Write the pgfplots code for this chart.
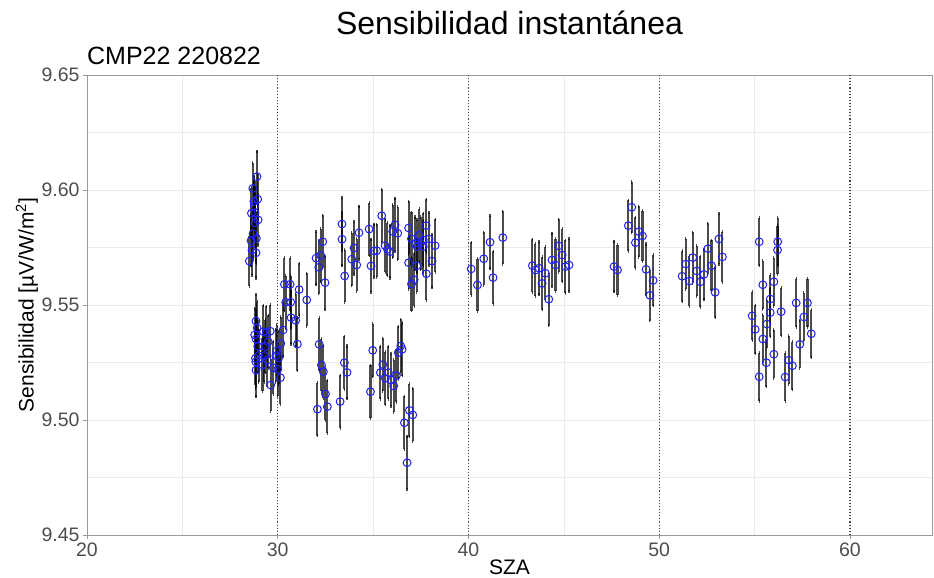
\documentclass[border=0pt]{standalone}
\usepackage{pgfplots}
\pgfplotsset{compat=1.18}
\usepackage{pgfplotstable}
\usepackage{fontspec}
\setmainfont{Liberation Sans}
\definecolor{gridc}{HTML}{EBEBEB}
\definecolor{framec}{HTML}{9A9A9A}
\definecolor{tickc}{HTML}{4D4D4D}
\definecolor{ptc}{HTML}{2020FF}

\pgfplotstableread{
x y e
28.91 9.6058 0.011
28.69 9.6007 0.011
28.62 9.5899 0.011
28.81 9.5901 0.011
28.97 9.5870 0.011
28.81 9.5857 0.011
28.65 9.5739 0.011
28.86 9.5727 0.011
28.51 9.5691 0.011
28.75 9.5950 0.011
28.70 9.5810 0.011
28.88 9.5790 0.011
28.78 9.5930 0.011
28.60 9.5780 0.011
28.95 9.5960 0.011
28.86 9.5430 0.0115
28.79 9.5370 0.0115
28.86 9.5352 0.0115
29.25 9.5384 0.0115
29.40 9.5380 0.0115
29.61 9.5386 0.0115
28.83 9.5268 0.0115
28.85 9.5253 0.0115
28.86 9.5217 0.0115
29.63 9.5152 0.0115
29.77 9.5227 0.0115
30.14 9.5184 0.0115
30.16 9.5333 0.0115
30.28 9.5391 0.0115
28.95 9.5320 0.0115
29.00 9.5280 0.0115
29.30 9.5280 0.0115
29.35 9.5320 0.0115
29.45 9.5260 0.0115
29.50 9.5340 0.0115
29.90 9.5280 0.0115
30.00 9.5220 0.0115
29.95 9.5300 0.0115
28.92 9.5400 0.0115
29.20 9.5240 0.0115
30.05 9.5270 0.0115
30.35 9.5590 0.0115
30.65 9.5590 0.0115
30.42 9.5512 0.0115
30.68 9.5512 0.0115
31.12 9.5567 0.0115
30.70 9.5445 0.0115
30.94 9.5433 0.0115
31.03 9.5330 0.0115
31.52 9.5522 0.0115
32.01 9.5704 0.0115
32.25 9.5716 0.0115
32.36 9.5775 0.0115
32.15 9.5664 0.0115
32.48 9.5597 0.0115
33.37 9.5852 0.0115
33.37 9.5786 0.0115
33.51 9.5626 0.0115
33.88 9.5699 0.0115
34.00 9.5748 0.0115
34.14 9.5674 0.0115
34.26 9.5814 0.0115
34.79 9.5830 0.0115
34.89 9.5670 0.0115
35.05 9.5735 0.0115
35.19 9.5736 0.0115
35.45 9.5888 0.0115
35.63 9.5758 0.0115
35.75 9.5742 0.0115
35.89 9.5732 0.0115
36.03 9.5820 0.0115
36.15 9.5849 0.0115
36.29 9.5812 0.0115
36.86 9.5835 0.0115
36.86 9.5684 0.0115
37.01 9.5788 0.0115
37.01 9.5591 0.0115
37.15 9.5610 0.0115
37.20 9.5768 0.0115
37.29 9.5670 0.0115
37.30 9.5755 0.0115
37.42 9.5803 0.0115
37.49 9.5768 0.0115
37.63 9.5783 0.0115
37.63 9.5754 0.0115
37.78 9.5845 0.0115
37.79 9.5636 0.0115
37.93 9.5787 0.0115
38.09 9.5691 0.0115
38.25 9.5758 0.0115
32.17 9.5329 0.0115
32.08 9.5047 0.0115
32.29 9.5239 0.0115
32.39 9.5210 0.0115
32.50 9.5113 0.0115
32.60 9.5058 0.0115
33.27 9.5080 0.0115
33.49 9.5249 0.0115
33.63 9.5207 0.0115
34.86 9.5123 0.0115
34.98 9.5303 0.0115
35.38 9.5206 0.0115
35.51 9.5241 0.0115
35.64 9.5181 0.0115
35.80 9.5206 0.0115
35.94 9.5174 0.0115
36.08 9.5148 0.0115
36.22 9.5193 0.0115
36.32 9.5293 0.0115
36.45 9.5322 0.0115
36.52 9.5307 0.0115
36.64 9.4988 0.0115
36.90 9.5042 0.0115
37.08 9.5022 0.0115
36.78 9.4814 0.0115
40.14 9.5657 0.0115
40.47 9.5587 0.0115
40.80 9.5701 0.0115
41.13 9.5773 0.0115
41.29 9.5619 0.0115
41.80 9.5793 0.0115
43.35 9.5671 0.0115
43.51 9.5652 0.0115
43.70 9.5660 0.0115
43.86 9.5594 0.0115
44.03 9.5638 0.0115
44.21 9.5525 0.0115
44.38 9.5696 0.0115
44.56 9.5674 0.0115
44.73 9.5757 0.0115
44.91 9.5717 0.0115
45.08 9.5667 0.0115
45.27 9.5674 0.0115
47.63 9.5667 0.011
47.81 9.5652 0.011
48.38 9.5845 0.011
48.56 9.5925 0.011
48.75 9.5771 0.011
48.93 9.5819 0.011
49.12 9.5800 0.011
49.31 9.5655 0.011
49.51 9.5542 0.011
49.68 9.5607 0.011
51.20 9.5625 0.011
51.39 9.5678 0.011
51.58 9.5604 0.011
51.76 9.5706 0.011
51.97 9.5648 0.011
52.16 9.5601 0.011
52.35 9.5633 0.011
52.55 9.5745 0.011
52.74 9.5671 0.011
52.93 9.5555 0.011
53.13 9.5787 0.011
53.31 9.5709 0.011
54.87 9.5453 0.0105
55.03 9.5394 0.0105
55.24 9.5775 0.0105
55.24 9.5188 0.0105
55.43 9.5588 0.0105
55.43 9.5352 0.0105
55.62 9.5249 0.0105
55.64 9.5417 0.0105
55.82 9.5526 0.0105
55.82 9.5467 0.0105
56.01 9.5601 0.0105
56.01 9.5286 0.0105
56.20 9.5739 0.0105
56.21 9.5775 0.0105
56.39 9.5471 0.0105
56.60 9.5187 0.0105
56.79 9.5260 0.0105
56.98 9.5236 0.0105
57.18 9.5509 0.0105
57.37 9.5329 0.0105
57.58 9.5448 0.0105
57.77 9.5509 0.0105
57.97 9.5375 0.0105
}\data

\begin{document}
\begin{tikzpicture}
\useasboundingbox (-87pt,-43pt) rectangle (847pt,535pt);
\begin{axis}[
  scale only axis, width=845pt, height=460pt,
  xmin=20, xmax=64.3, ymin=9.45, ymax=9.65,
  xtick={20,30,40,50,60}, minor xtick={25,35,45,55},
  ytick={9.45,9.5,9.55,9.6,9.65}, minor ytick={9.475,9.525,9.575,9.625},
  grid=both,
  major grid style={color=gridc, line width=0.8pt},
  minor grid style={color=gridc, line width=0.5pt},
  axis line style={framec, line width=0.8pt},
  tick pos=left, tick align=outside,
  major tick length=4pt, minor tick length=0pt,
  tick style={framec, line width=0.8pt},
  /pgf/number format/assume math mode=true,
  yticklabel style={/pgf/number format/.cd, fixed, fixed zerofill, precision=2},
  xticklabel style={/pgf/number format/.cd, fixed, precision=0},
  ticklabel style={font=\fontsize{19.5}{22}\selectfont, color=tickc},
  xlabel={SZA}, ylabel={Sensibilidad [µV/W/m\textsuperscript{2}]},
  label style={font=\fontsize{21}{24}\selectfont},
  xlabel style={at={(axis description cs:0.5,-0.071)}, anchor=center},
  ylabel style={at={(axis description cs:-0.071,0.5)}, anchor=center},
]
\addplot[forget plot, black!70, dotted, line width=1.1pt] coordinates {(30,9.45) (30,9.65)};
\addplot[forget plot, black!70, dotted, line width=1.1pt] coordinates {(40,9.45) (40,9.65)};
\addplot[forget plot, black!70, dotted, line width=1.1pt] coordinates {(50,9.45) (50,9.65)};
\addplot[forget plot, black!70, dotted, line width=1.1pt] coordinates {(60,9.45) (60,9.65)};
\addplot[only marks, mark=o, mark size=3.9pt, mark options={ptc, line width=1pt},
  error bars/.cd, y dir=both, y explicit,
  error bar style={black, opacity=0.7, line width=2.1pt},
  error mark options={black, mark size=1.6pt, line width=1.2pt}]
  table[x=x, y=y, y error=e] {\data};
\end{axis}
\node[anchor=base, font=\fontsize{32}{36}\selectfont] at ([yshift=40pt]current axis.north) {Sensibilidad instantánea};
\node[anchor=base west, font=\fontsize{25}{28}\selectfont, inner sep=0pt] at ([yshift=10pt]current axis.north west) {CMP22 220822};
\end{tikzpicture}
\end{document}
